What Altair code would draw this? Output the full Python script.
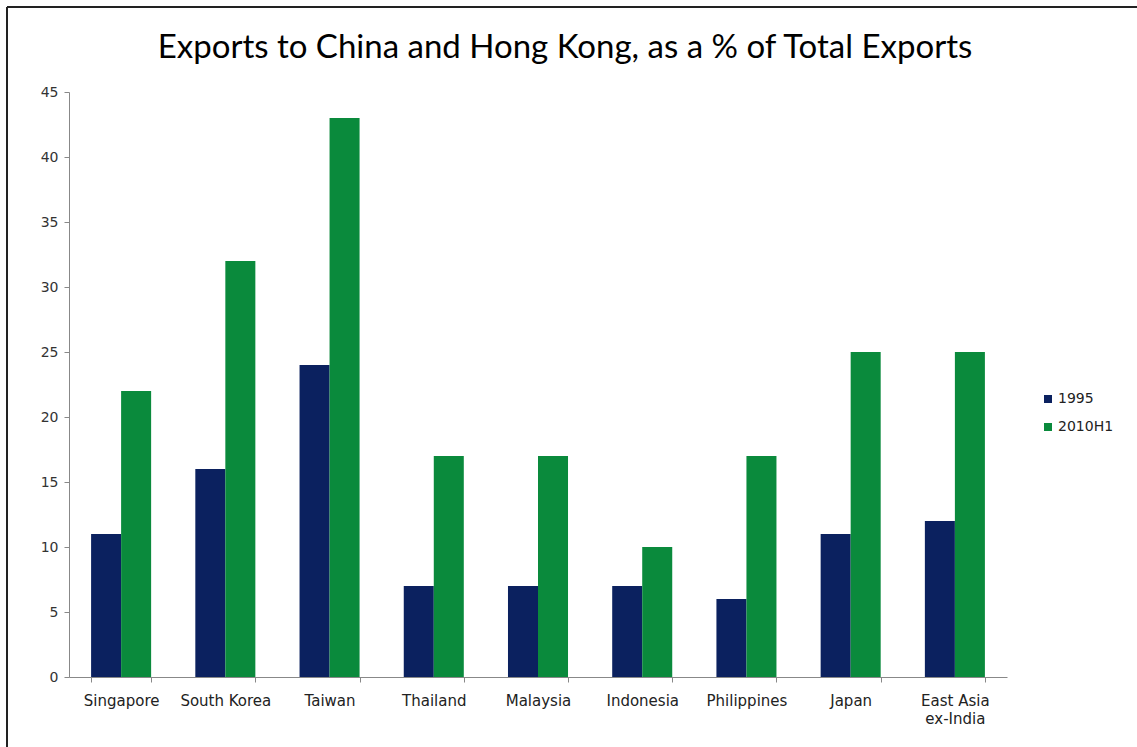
import altair as alt
import pandas as pd

countries = ["Singapore", "South Korea", "Taiwan", "Thailand", "Malaysia",
             "Indonesia", "Philippines", "Japan", "East Asia ex-India"]
v1995 = [11, 16, 24, 7, 7, 7, 6, 11, 12]
v2010h1 = [22, 32, 43, 17, 17, 10, 17, 25, 25]
series = ["1995", "2010H1"]
colors = ["#0b215f", "#0a8a3c"]
y_ticks = [0, 5, 10, 15, 20, 25, 30, 35, 40, 45]
title_text = "Exports to China and Hong Kong, as a % of Total Exports"

rows = []
for c, a, b in zip(countries, v1995, v2010h1):
    rows.append({"country": c, "series": series[0], "value": a})
    rows.append({"country": c, "series": series[1], "value": b})
df = pd.DataFrame(rows)

W, H = 938, 585
LEFT, TOP = 69, 92

bars = alt.Chart(df).mark_bar().encode(
    x=alt.X("country:N", sort=countries, title=None,
            scale=alt.Scale(paddingInner=0.424, paddingOuter=0.212),
            axis=alt.Axis(labelAngle=0, labelFont="DejaVu Sans", labelFontSize=15,
                          labelColor="#222222", labelPadding=11, tickSize=5,
                          tickBand="extent", tickColor="#888888", domainColor="#888888",
                          labelExpr="datum.value == 'East Asia ex-India' ? ['East Asia', 'ex-India'] : datum.value",
                          labelLineHeight=18, labelBaseline="top", grid=False)),
    xOffset=alt.XOffset("series:N", sort=series),
    y=alt.Y("value:Q", title=None, scale=alt.Scale(domain=[0, 45], nice=False),
            axis=alt.Axis(values=y_ticks, labelFont="DejaVu Sans", labelFontSize=14,
                          labelColor="#333333", labelPadding=6, tickSize=5,
                          tickColor="#888888", domainColor="#888888", grid=False)),
    color=alt.Color("series:N", sort=series,
                    scale=alt.Scale(domain=series, range=colors),
                    legend=alt.Legend(title=None, orient="none", legendX=972, legendY=300,
                                      symbolType="square", symbolSize=64,
                                      symbolStrokeWidth=0,
                                      labelFont="DejaVu Sans", labelFontSize=14,
                                      labelColor="#222222", rowPadding=14, labelOffset=3)),
)

frame = alt.Data(values=[{"t": title_text}])
top_line = alt.Chart(frame).mark_rule(color="#222222", strokeWidth=2).encode(
    x=alt.value(7 - LEFT), x2=alt.value(1137 - LEFT + 10), y=alt.value(7 - TOP))
left_line = alt.Chart(frame).mark_rule(color="#222222", strokeWidth=2).encode(
    x=alt.value(7 - LEFT), y=alt.value(7 - TOP), y2=alt.value(747 - TOP + 10))
title = alt.Chart(frame).mark_text(font="Lato", fontSize=33, color="#000000",
                                   align="center", baseline="alphabetic").encode(
    text="t:N", x=alt.value(565 - LEFT), y=alt.value(58 - TOP))

chart = alt.layer(bars, top_line, left_line, title).properties(
    width=W, height=H,
    padding={"left": LEFT, "top": TOP, "right": 1137 - LEFT - W, "bottom": 747 - TOP - H},
    autosize=alt.AutoSizeParams(type="none"),
    background="white",
).configure_view(stroke=None)

chart.save("out.html", embed_options={"renderer": "svg", "actions": False})
